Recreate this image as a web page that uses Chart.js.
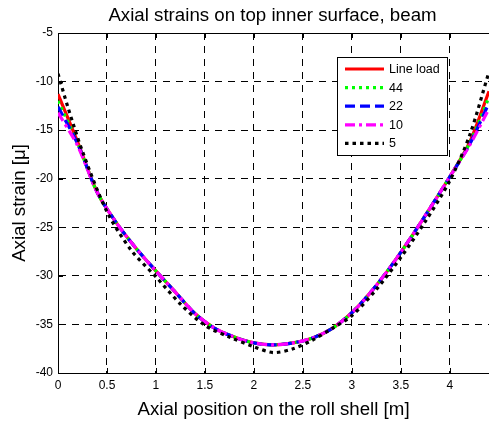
<!DOCTYPE html>
<html>
<head>
<meta charset="utf-8">
<script src="https://cdn.jsdelivr.net/npm/chart.js@4.4.1/dist/chart.umd.min.js"></script>
<style>
  body { margin: 0; background: #fff; }
  #wrap { width: 489px; height: 421px; }
</style>
</head>
<body>
<div id="wrap"><canvas id="myChart"></canvas></div>
<script>
// positions along the shell [m]
const positions = [0, 0.2, 0.4, 0.6, 0.8, 1.0, 1.2, 1.4, 1.6, 1.8, 2.0, 2.2, 2.4, 2.6, 2.8, 3.0, 3.2, 3.4, 3.6, 3.8, 4.0, 4.2, 4.4];
const lineLoad = [-11.3, -16.2, -21.4, -24.6, -27.2, -29.5, -31.7, -33.9, -35.4, -36.3, -36.9, -37.1, -36.9, -36.4, -35.4, -33.8, -31.6, -29.0, -26.1, -23.0, -19.8, -16.3, -11.0];
const load44 = [-12.0, -16.3, -21.4, -24.6, -27.2, -29.5, -31.7, -33.9, -35.4, -36.3, -36.9, -37.1, -36.9, -36.4, -35.4, -33.8, -31.6, -29.0, -26.1, -23.0, -19.8, -16.4, -11.6];
const load22 = [-12.6, -16.4, -21.4, -24.6, -27.2, -29.5, -31.7, -33.9, -35.4, -36.3, -36.9, -37.1, -36.9, -36.4, -35.4, -33.8, -31.6, -29.0, -26.1, -23.0, -19.8, -16.5, -12.2];
const load10 = [-13.2, -16.6, -21.4, -24.6, -27.2, -29.5, -31.7, -33.9, -35.4, -36.3, -36.9, -37.1, -36.9, -36.4, -35.4, -33.8, -31.6, -29.0, -26.1, -23.0, -19.8, -16.6, -12.8];
const positions5 = [0, 0.1, 0.25, 0.5, 0.75, 1.0, 1.25, 1.5, 1.75, 2.0, 2.2, 2.4, 2.6, 2.8, 3.0, 3.25, 3.5, 3.75, 4.0, 4.2, 4.4];
const load5 = [-9.2, -12.6, -17.2, -23.4, -27.4, -30.1, -32.9, -35.1, -36.3, -37.3, -37.9, -37.5, -36.6, -35.4, -34.1, -31.4, -28.1, -24.4, -20.2, -15.6, -9.0];

const xTicks = [0, 0.5, 1, 1.5, 2, 2.5, 3, 3.5, 4];
const yTicks = [-40, -35, -30, -25, -20, -15, -10, -5];

const chartTitle = "Axial strains on top inner surface, beam";

function toPoints(xs, ys) {
  return xs.map((x, i) => ({ x: x, y: ys[i] }));
}

const seriesStyle = [
  { label: "Line load", data: toPoints(positions, lineLoad), color: "#ff0000", dash: [] },
  { label: "44", data: toPoints(positions, load44), color: "#00ff00", dash: [3, 4] },
  { label: "22", data: toPoints(positions, load22), color: "#0000ff", dash: [10, 5] },
  { label: "10", data: toPoints(positions, load10), color: "#ff00ff", dash: [10, 4, 3, 4] },
  { label: "5", data: toPoints(positions5, load5), color: "#000000", dash: [3.5, 4] }
];

// later series are drawn on top, like in matlab
const datasets = seriesStyle.map((s, i) => ({
  label: s.label,
  data: s.data,
  borderColor: s.color,
  backgroundColor: s.color,
  borderDash: s.dash,
  borderWidth: 3.2,
  borderCapStyle: "butt",
  pointRadius: 0,
  tension: 0.3,
  fill: false,
  order: seriesStyle.length - i
}));

const font = "Arial, 'Liberation Sans', sans-serif";

// matlab style box, inner ticks, title and legend
const matlabBits = {
  id: "matlabBits",
  afterDraw(chart) {
    const ctx = chart.ctx;
    const a = chart.chartArea;
    const xs = chart.scales.x;
    const ys = chart.scales.y;
    ctx.save();
    ctx.strokeStyle = "#000";
    ctx.lineWidth = 1;
    ctx.setLineDash([]);
    ctx.beginPath();
    ctx.moveTo(a.left, a.top + 0.5);
    ctx.lineTo(a.right, a.top + 0.5);
    ctx.stroke();
    xTicks.forEach((v) => {
      const px = Math.round(xs.getPixelForValue(v)) + 0.5;
      ctx.beginPath();
      ctx.moveTo(px, a.bottom); ctx.lineTo(px, a.bottom - 5);
      ctx.moveTo(px, a.top); ctx.lineTo(px, a.top + 5);
      ctx.stroke();
    });
    yTicks.forEach((v) => {
      const py = Math.round(ys.getPixelForValue(v)) + 0.5;
      ctx.beginPath();
      ctx.moveTo(a.left, py); ctx.lineTo(a.left + 5, py);
      ctx.stroke();
    });

    // title centred over the axes
    ctx.fillStyle = "#000";
    ctx.font = "18.7px " + font;
    ctx.textAlign = "center";
    ctx.textBaseline = "middle";
    ctx.fillText(chartTitle, (a.left + a.right) / 2 - 1, 16);

    // legend box
    const lx = 337, ly = 57, lw = 110, lh = 98;
    ctx.fillStyle = "#fff";
    ctx.fillRect(lx, ly, lw, lh);
    ctx.strokeStyle = "#000";
    ctx.lineWidth = 1;
    ctx.strokeRect(lx + 0.5, ly + 0.5, lw, lh);
    ctx.font = "12.5px " + font;
    ctx.textAlign = "left";
    chart.data.datasets.forEach((ds, i) => {
      const y = ly + 12 + i * 18.6;
      ctx.strokeStyle = ds.borderColor;
      ctx.lineWidth = 3.2;
      ctx.lineCap = "butt";
      ctx.setLineDash(ds.borderDash);
      ctx.beginPath();
      ctx.moveTo(lx + 8, y);
      ctx.lineTo(lx + 47, y);
      ctx.stroke();
      ctx.setLineDash([]);
      ctx.fillStyle = "#000";
      ctx.fillText(ds.label, lx + 52, y + 0.5);
    });
    ctx.restore();
  }
};

new Chart(document.getElementById("myChart"), {
  type: "line",
  data: { datasets: datasets },
  options: {
    responsive: true,
    maintainAspectRatio: false,
    animation: false,
    layout: { padding: { left: 0, right: 0, top: 33, bottom: 0 } },
    plugins: {
      legend: { display: false },
      tooltip: { enabled: false },
      title: { display: false }
    },
    scales: {
      x: {
        type: "linear",
        min: 0,
        max: 4.4,
        afterFit(s) { s.height = 48; },
        afterBuildTicks(s) { s.ticks = xTicks.map((v) => ({ value: v })); },
        ticks: {
          color: "#000",
          font: { family: font, size: 12 },
          padding: 5,
          maxRotation: 0,
          autoSkip: false,
          callback: (v) => String(v)
        },
        grid: { color: "#000", lineWidth: 1, drawTicks: false },
        border: { color: "#000", width: 1, dash: [7, 6] },
        title: {
          display: true,
          text: "Axial position on the roll shell [m]",
          color: "#000",
          font: { family: font, size: 18.7 },
          padding: { top: 4, bottom: 0 }
        }
      },
      y: {
        type: "linear",
        min: -40,
        max: -5,
        afterFit(s) { s.width = 58; },
        afterBuildTicks(s) { s.ticks = yTicks.map((v) => ({ value: v })); },
        ticks: {
          color: "#000",
          font: { family: font, size: 12 },
          padding: 5,
          autoSkip: false
        },
        grid: { color: "#000", lineWidth: 1, drawTicks: false },
        border: { color: "#000", width: 1, dash: [7, 6] },
        title: {
          display: true,
          text: "Axial strain [\u03bc]",
          color: "#000",
          font: { family: font, size: 18.7 },
          padding: { top: 9, bottom: 0 }
        }
      }
    }
  },
  plugins: [matlabBits]
});
</script>
</body>
</html>
